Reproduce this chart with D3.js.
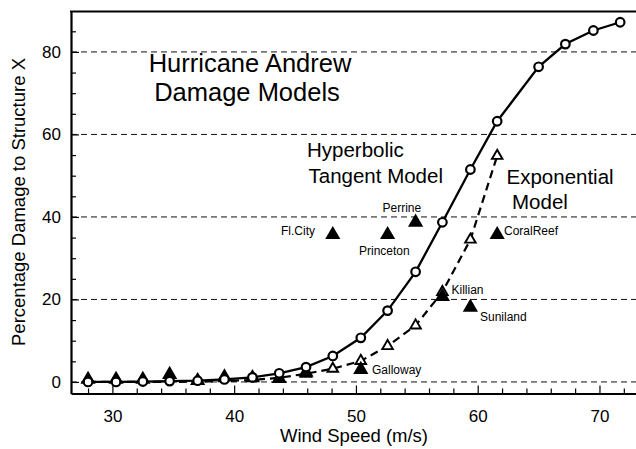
<!DOCTYPE html>
<html>
<head>
<meta charset="utf-8">
<script src="https://cdn.jsdelivr.net/npm/d3@7"></script>
<style>
  html, body { margin: 0; padding: 0; background: #fff; }
  svg { display: block; font-family: "Liberation Sans", Arial, Helvetica, sans-serif; }
</style>
</head>
<body>
<svg id="chart" width="636" height="449"></svg>
<script>
// Wind speeds (m/s) at which the damage models are evaluated
const windSpeed = [28.0, 30.3, 32.5, 34.7, 37.0, 39.2, 41.5, 43.7, 45.9, 48.1,
                   50.4, 52.6, 54.9, 57.1, 59.4, 61.6, 65.0, 67.2, 69.5, 71.7];
// Hyperbolic tangent model, % damage
const tanhDamage = [0, 0, 0.1, 0.2, 0.3, 0.6, 1.1, 2.1, 3.6, 6.3,
                    10.7, 17.3, 26.7, 38.7, 51.5, 63.2, 76.4, 81.9, 85.2, 87.2];
// Exponential model, % damage (first 16 wind speeds)
const expDamage = [0, 0, 0, 0, 0.1, 0.2, 0.5, 1.0, 2.0, 3.2,
                   5.1, 8.7, 13.7, 21.8, 34.5, 54.8];
// Observed damage at named sites
const siteNames  = ["Fl.City", "Galloway", "Princeton", "Perrine", "Killian", "Suniland", "CoralReef"];
const siteSpeed  = [48.1, 50.4, 52.6, 54.9, 57.1, 59.4, 61.6];
const siteDamage = [35.7, 3.0, 35.7, 38.7, 20.7, 18.1, 35.7];
// Observed damage at low wind speeds (unnamed sites)
const lowSpeed  = [28.0, 30.3, 32.5, 34.7, 37.0, 39.2, 41.5, 43.7, 45.9];
const lowDamage = [0.6, 0.6, 0.6, 1.8, 0.3, 1.2, 1.0, 0.8, 2.3];
// Axis ticks
const xMajorTicks = [30, 40, 50, 60, 70];
const yMajorTicks = [0, 20, 40, 60, 80];

const svg = d3.select("#chart");
const plotLeft = 71, plotRight = 636, plotTop = 11.5, plotBottom = 393.5;

const x = d3.scaleLinear().domain([26.6, 73]).range([plotLeft, plotRight]);
const y = d3.scaleLinear().domain([-2.8, 89.8]).range([plotBottom, plotTop]);

// dashed horizontal grid lines
svg.append("g").selectAll("line").data(yMajorTicks).join("line")
  .attr("x1", plotLeft).attr("x2", plotRight)
  .attr("y1", d => y(d)).attr("y2", d => y(d))
  .attr("stroke", "#111").attr("stroke-width", 1)
  .attr("stroke-dasharray", "6,4");

// axes with inward ticks
const xMinor = d3.range(28, 73, 2).filter(v => !xMajorTicks.includes(v));
const yMinor = d3.range(5, 90, 5).filter(v => !yMajorTicks.includes(v));

const xAxis = svg.append("g").attr("transform", `translate(0,${plotBottom})`);
xAxis.call(d3.axisBottom(x).tickValues(xMajorTicks).tickSize(-8).tickPadding(16).tickSizeOuter(0));
xAxis.append("g").call(d3.axisBottom(x).tickValues(xMinor).tickSize(-5).tickFormat("").tickSizeOuter(0))
  .select(".domain").remove();

const yAxis = svg.append("g").attr("transform", `translate(${plotLeft},0)`);
yAxis.call(d3.axisLeft(y).tickValues(yMajorTicks).tickSize(-8).tickPadding(10).tickSizeOuter(0));
yAxis.append("g").call(d3.axisLeft(y).tickValues(yMinor).tickSize(-5).tickFormat("").tickSizeOuter(0))
  .select(".domain").remove();

svg.selectAll(".domain").attr("stroke", "#000").attr("stroke-width", 2.2);
svg.selectAll(".tick line").attr("stroke", "#000").attr("stroke-width", 1.2);
xAxis.selectAll(".tick text").attr("font-size", 17).attr("fill", "#000").attr("dy", "0.71em");
yAxis.selectAll(".tick text").attr("font-size", 17).attr("fill", "#000");

// top frame line
svg.append("line").attr("x1", plotLeft - 1).attr("x2", plotRight).attr("y1", plotTop).attr("y2", plotTop)
  .attr("stroke", "#000").attr("stroke-width", 2);

// axis titles
svg.append("text").attr("x", 354).attr("y", 441.5).attr("text-anchor", "middle")
  .attr("font-size", 18.5).text("Wind Speed (m/s)");
svg.append("text").attr("transform", "translate(25,202) rotate(-90)").attr("text-anchor", "middle")
  .attr("font-size", 18.5).text("Percentage Damage to Structure X");

const line = d3.line().x(d => x(d.s)).y(d => y(d.d));

// exponential model: dashed line with open triangles
const expPts = expDamage.map((d, i) => ({ s: windSpeed[i], d }));
svg.append("path").datum(expPts).attr("d", line)
  .attr("fill", "none").attr("stroke", "#000").attr("stroke-width", 2.2)
  .attr("stroke-dasharray", "8,5");
svg.append("g").selectAll("path").data(expPts.slice(8)).join("path")
  .attr("d", d3.symbol().type(d3.symbolTriangle).size(48)())
  .attr("transform", d => `translate(${x(d.s)},${y(d.d)})`)
  .attr("fill", "#fff").attr("stroke", "#000").attr("stroke-width", 1.9);

// observed points (filled triangles)
const lowPts = lowSpeed.map((s, i) => ({ s, d: lowDamage[i] }));
const sitePts = siteSpeed.map((s, i) => ({ s, d: siteDamage[i], name: siteNames[i] }));
svg.append("g").selectAll("path").data(lowPts.concat(sitePts)).join("path")
  .attr("d", d3.symbol().type(d3.symbolTriangle).size(100)())
  .attr("transform", d => `translate(${x(d.s)},${y(d.d)})`)
  .attr("fill", "#000");

// hyperbolic tangent model: solid line with open circles
const tanhPts = tanhDamage.map((d, i) => ({ s: windSpeed[i], d }));
svg.append("path").datum(tanhPts).attr("d", line)
  .attr("fill", "none").attr("stroke", "#000").attr("stroke-width", 2.3);
svg.append("g").selectAll("circle").data(tanhPts).join("circle")
  .attr("cx", d => x(d.s)).attr("cy", d => y(d.d)).attr("r", 4.3)
  .attr("fill", "#fff").attr("stroke", "#000").attr("stroke-width", 2.2);

// site labels
const siteLabelPos = {
  "Fl.City":   [281, 235],
  "Galloway":  [372, 373.5],
  "Princeton": [359, 254.5],
  "Perrine":   [382.5, 211.5],
  "Killian":   [451.5, 293.5],
  "Suniland":  [480, 320.5],
  "CoralReef": [504, 235]
};
svg.append("g").selectAll("text").data(sitePts).join("text")
  .attr("x", d => siteLabelPos[d.name][0]).attr("y", d => siteLabelPos[d.name][1])
  .attr("font-size", 12).text(d => d.name);

// annotations
const notes = [
  { t: "Hurricane Andrew", x: 250, y: 71.5, size: 25.5, anchor: "middle" },
  { t: "Damage Models",    x: 247, y: 101,  size: 25.5, anchor: "middle" },
  { t: "Hyperbolic",       x: 307, y: 156.5, size: 20.5, anchor: "start" },
  { t: "Tangent Model",    x: 308.5, y: 182.5, size: 20.5, anchor: "start" },
  { t: "Exponential",      x: 506.5, y: 184, size: 20.5, anchor: "start" },
  { t: "Model",            x: 512, y: 209,  size: 20.5, anchor: "start" }
];
svg.append("g").selectAll("text").data(notes).join("text")
  .attr("x", d => d.x).attr("y", d => d.y).attr("font-size", d => d.size)
  .attr("text-anchor", d => d.anchor).text(d => d.t);
</script>
</body>
</html>
